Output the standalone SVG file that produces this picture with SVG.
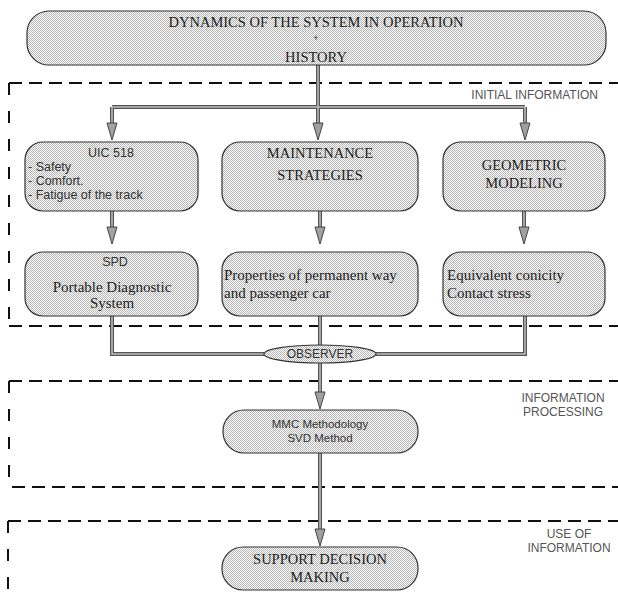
<svg xmlns="http://www.w3.org/2000/svg" width="618" height="601" viewBox="0 0 618 601">
<defs>
<pattern id="dots" patternUnits="userSpaceOnUse" width="2" height="2">
<rect width="2" height="2" fill="#ffffff"/>
<rect width="1" height="1" fill="#b4b4b4"/>
<rect x="1" y="1" width="1" height="1" fill="#b4b4b4"/>
</pattern>
</defs>
<style>
.box{fill:url(#dots);stroke:#333;stroke-width:1.2}
.hd{fill:none;stroke:#111;stroke-width:2;stroke-dasharray:13 7}
.vd{fill:none;stroke:#111;stroke-width:2;stroke-dasharray:12 16}
.pipe{fill:none;stroke:#555;stroke-width:4}
.pipein{fill:none;stroke:#bdbdbd;stroke-width:1.5}
.head{fill:#a0a0a0;stroke:#444;stroke-width:1}
.serif{font-family:"Liberation Serif","Times New Roman",serif;fill:#222}
.sans{font-family:"Liberation Sans",Arial,sans-serif;fill:#333}
.lbl{font-family:"Liberation Sans",Arial,sans-serif;fill:#555;font-size:12px}
</style>

<g id="regions">
<path class="hd" d="M9,83 H618"/>
<path class="vd" d="M9,83 V326"/>
<path class="hd" d="M9,326 H618"/>
<path class="hd" d="M9,381 H618"/>
<path class="vd" d="M9,381 V478"/>
<path class="hd" d="M12,487 H618"/>
<path class="hd" d="M8,521 H618"/>
<path class="vd" d="M8,521 V601"/>
<text class="lbl" x="598" y="99" text-anchor="end">INITIAL INFORMATION</text>
<text class="lbl" x="563" y="402" text-anchor="middle">INFORMATION</text>
<text class="lbl" x="563" y="416" text-anchor="middle">PROCESSING</text>
<text class="lbl" x="569" y="538" text-anchor="middle">USE OF</text>
<text class="lbl" x="569" y="552" text-anchor="middle">INFORMATION</text>
</g>

<g id="connectors">
<path class="pipe" d="M318,65 V107 M112,107 H525 M112,107 V124 M318,107 V124 M525,107 V124 M112,211 V228 M320,211 V228 M524,211 V228 M112,316 V354 H264 M525,316 V354 H376 M320,316 V345 M320,363 V393 M320,453 V530"/>
<path class="pipein" d="M318,65 V107 M112,107 H525 M112,107 V124 M318,107 V124 M525,107 V124 M112,211 V228 M320,211 V228 M524,211 V228 M112,316 V354 H264 M525,316 V354 H376 M320,316 V345 M320,363 V393 M320,453 V530"/>
<path class="head" d="M107,123 L117,123 L112,140 Z M313,123 L323,123 L318,140 Z M520,123 L530,123 L525,140 Z M107,227 L117,227 L112,244 Z M315,227 L325,227 L320,244 Z M519,227 L529,227 L524,244 Z M315,392 L325,392 L320,409 Z M315,529 L325,529 L320,546 Z"/>
</g>

<g id="top">
<rect class="box" x="27" y="11" width="579" height="54" rx="22"/>
<text class="serif" x="316" y="27" font-size="14.5" text-anchor="middle">DYNAMICS OF THE SYSTEM IN OPERATION</text>
<text class="sans" x="316" y="41" font-size="9" text-anchor="middle">+</text>
<text class="serif" x="316" y="62" font-size="14.5" text-anchor="middle">HISTORY</text>
</g>

<g id="uic">
<rect class="box" x="25" y="142" width="173" height="69" rx="18"/>
<text class="sans" x="111" y="157" font-size="12.5" text-anchor="middle">UIC 518</text>
<text class="sans" x="28" y="171" font-size="12.5">- Safety</text>
<text class="sans" x="28" y="185" font-size="12.5">- Comfort.</text>
<text class="sans" x="28" y="199" font-size="12.5">- Fatigue of the track</text>
</g>

<g id="maint">
<rect class="box" x="222" y="142" width="196" height="69" rx="18"/>
<text class="serif" x="320" y="158" font-size="14.5" text-anchor="middle">MAINTENANCE</text>
<text class="serif" x="320" y="180" font-size="14.5" text-anchor="middle">STRATEGIES</text>
</g>

<g id="geo">
<rect class="box" x="443" y="142" width="162" height="69" rx="18"/>
<text class="serif" x="524" y="170" font-size="14.5" text-anchor="middle">GEOMETRIC</text>
<text class="serif" x="524" y="188" font-size="14.5" text-anchor="middle">MODELING</text>
</g>

<g id="spd">
<rect class="box" x="25" y="252" width="173" height="64" rx="18"/>
<text class="sans" x="115" y="266" font-size="12.5" text-anchor="middle">SPD</text>
<text class="serif" x="112" y="292" font-size="15" text-anchor="middle">Portable Diagnostic</text>
<text class="serif" x="112" y="308" font-size="15" text-anchor="middle">System</text>
</g>

<g id="props">
<rect class="box" x="222" y="252" width="196" height="64" rx="18"/>
<text class="serif" x="224" y="280" font-size="15">Properties of permanent way</text>
<text class="serif" x="224" y="298" font-size="15">and passenger car</text>
</g>

<g id="equiv">
<rect class="box" x="443" y="252" width="162" height="64" rx="18"/>
<text class="serif" x="447" y="280" font-size="15">Equivalent conicity</text>
<text class="serif" x="447" y="298" font-size="15">Contact stress</text>
</g>

<g id="observer">
<ellipse class="box" cx="320" cy="354" rx="56" ry="9"/>
<text class="sans" x="320" y="358" font-size="12" text-anchor="middle">OBSERVER</text>
</g>

<g id="mmc">
<rect class="box" x="223" y="410" width="195" height="43" rx="21"/>
<text class="sans" x="320" y="428" font-size="11.5" text-anchor="middle">MMC Methodology</text>
<text class="sans" x="320" y="442" font-size="11.5" text-anchor="middle">SVD Method</text>
</g>

<g id="support">
<rect class="box" x="222" y="547" width="196" height="43" rx="21"/>
<text class="serif" x="320" y="564" font-size="14.5" text-anchor="middle">SUPPORT DECISION</text>
<text class="serif" x="320" y="582" font-size="14.5" text-anchor="middle">MAKING</text>
</g>
</svg>
